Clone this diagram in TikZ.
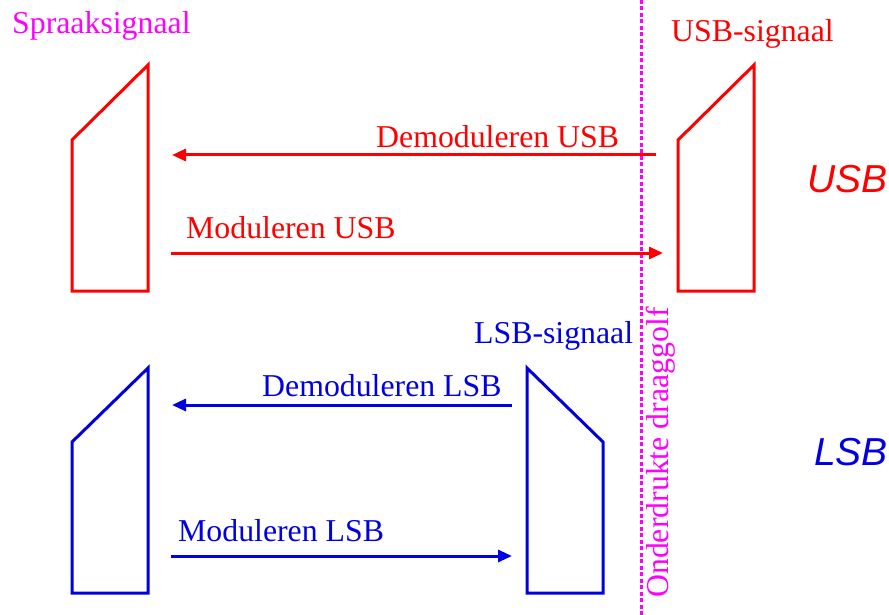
\documentclass[tikz,border=0pt]{standalone}
\usepackage{fontspec}
\setmainfont{Liberation Serif}
\newfontfamily\arialfont{Liberation Sans}
\usetikzlibrary{arrows.meta}
\definecolor{myred}{RGB}{255,0,0}
\definecolor{myblue}{RGB}{0,0,225}
\definecolor{mymag}{RGB}{255,0,255}
\begin{document}
\begin{tikzpicture}[x=1pt,y=-1pt,
  lbl/.style={inner sep=0pt, anchor=base west, font=\fontsize{31.8}{36}\selectfont},
  big/.style={inner sep=0pt, anchor=base west, font=\arialfont\itshape\fontsize{39}{44}\selectfont},
  shp/.style={line width=3pt, line join=miter},
  arr/.style={line width=3pt, -{Triangle[length=14pt,width=12pt]}}]
\useasboundingbox (0,0) rectangle (889,615);

% carrier line
\coordinate (ctop) at (641,0);
\coordinate (cbot) at (641,615);
\draw[mymag, line width=3pt, dash pattern=on 4pt off 2.5pt] (ctop) -- (cbot);
\node[lbl, mymag, rotate=90] (carrier) at (668,598) {Onderdrukte draaggolf};

% red shapes
\draw[shp, myred] (72,140) -- (148,65) -- (148,291) -- (72,291) -- cycle;
\draw[shp, myred] (678,140) -- (754,65) -- (754,291) -- (678,291) -- cycle;
% blue shapes
\draw[shp, myblue] (72,442) -- (148,368) -- (148,593) -- (72,593) -- cycle;
\draw[shp, myblue] (527,368) -- (603,442) -- (603,593) -- (527,593) -- cycle;

% labels
\node[lbl, mymag] (spraak) at (12,34) {Spraaksignaal};
\node[lbl, myred] (usbsig) at (671,42) {USB-signaal};
\node[lbl, myblue] (lsbsig) at (474,343) {LSB-signaal};
\node[lbl, myred] (demusb) at (376,148) {Demoduleren USB};
\node[lbl, myred] (modusb) at (186,238) {Moduleren USB};
\node[lbl, myblue] (demlsb) at (262,396) {Demoduleren LSB};
\node[lbl, myblue] (modlsb) at (178,541) {Moduleren LSB};
\node[big, myred] (usb) at (807,193) {USB};
\node[big, myblue] (lsb) at (814,465) {LSB};

% arrow end points
\coordinate (a1s) at (656,155); \coordinate (a1e) at (172,155);
\coordinate (a2s) at (171,253); \coordinate (a2e) at (663,253);
\coordinate (b1s) at (512,405); \coordinate (b1e) at (172,405);
\coordinate (b2s) at (171,556); \coordinate (b2e) at (512,556);
\draw[arr, myred] (a1s) -- (a1e);
\draw[arr, myred] (a2s) -- (a2e);
\draw[arr, myblue] (b1s) -- (b1e);
\draw[arr, myblue] (b2s) -- (b2e);
\end{tikzpicture}
\end{document}
